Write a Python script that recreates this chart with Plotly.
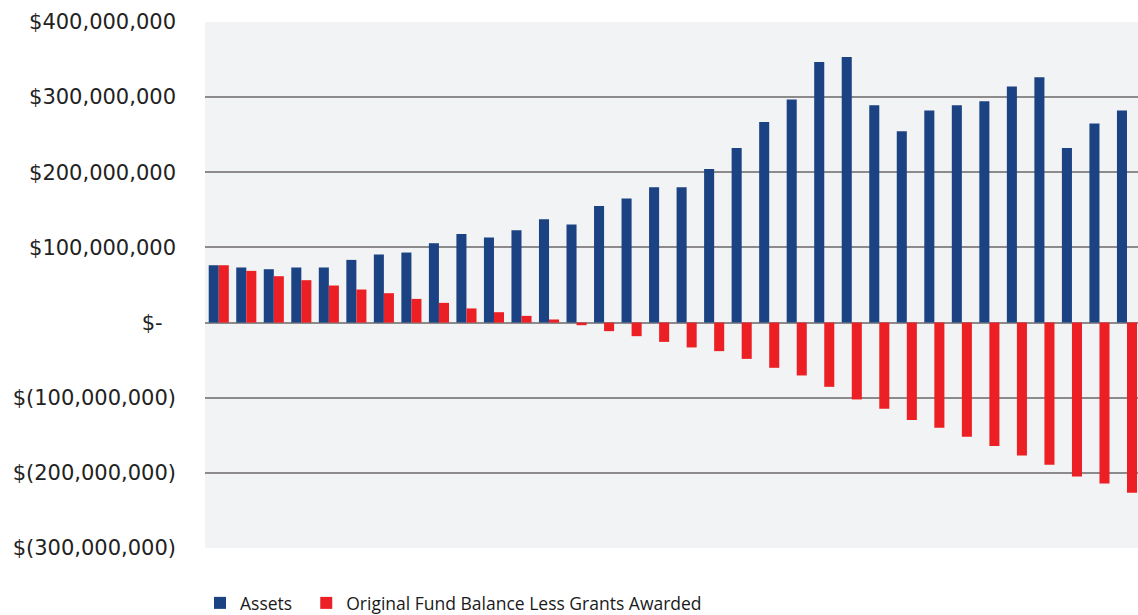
import plotly.graph_objects as go

categories = [str(i) for i in range(1, 35)]
assets = [76.3, 73.3, 71.0, 73.3, 73.3, 83.4, 90.6, 93.2, 105.6, 118.0,
          113.2, 122.9, 137.5, 130.5, 155.2, 165.0, 180.0, 180.0, 204.4, 232.3,
          267.0, 296.7, 346.7, 353.4, 289.1, 254.6, 282.1, 289.1, 294.5, 314.0,
          326.4, 232.3, 264.8, 282.1]
fund_balance = [76.3, 68.8, 61.7, 56.4, 49.3, 44.0, 39.1, 31.5, 26.2, 18.8,
                13.8, 8.9, 4.1, -3.5, -11.4, -18.1, -25.7, -33.1, -38.0, -48.3,
                -60.2, -70.4, -85.5, -102.3, -114.8, -129.8, -140.0, -152.0, -164.4, -176.8,
                -189.3, -204.7, -214.0, -226.5]
tick_vals = [400, 300, 200, 100, 0, -100, -200, -300]
tick_text = ["$400,000,000", "$300,000,000", "$200,000,000", "$100,000,000",
             "$-\u00a0\u00a0", "$(100,000,000)", "$(200,000,000)", "$(300,000,000)"]

M = 1_000_000
fig = go.Figure()
fig.add_trace(go.Bar(x=categories, y=[v * M for v in assets], name="Assets\u00a0\u00a0",
                     marker=dict(color="#1b4283", line=dict(width=0))))
fig.add_trace(go.Bar(x=categories, y=[v * M for v in fund_balance],
                     name="Original Fund Balance Less Grants Awarded",
                     marker=dict(color="#ec1f24", line=dict(width=0))))

fig.update_layout(
    width=1138, height=615,
    margin=dict(l=205, r=0, t=22, b=67),
    paper_bgcolor="white", plot_bgcolor="#f1f3f4",
    barmode="group", bargap=0.27, bargroupgap=0,
    showlegend=True,
    legend=dict(orientation="h", xref="container", yref="container",
                x=200 / 1138, xanchor="left", y=12 / 615, yanchor="middle",
                font=dict(family="Open Sans", size=17.5, color="#1a1a1a"),
                bgcolor="rgba(0,0,0,0)"),
    font=dict(family="DejaVu Sans", color="#222222"),
)
fig.update_xaxes(range=[-0.5, 33.4], showticklabels=False, showgrid=False,
                 ticks="", showline=False, zeroline=False)
fig.update_yaxes(range=[-300 * M, 400 * M], tickvals=[v * M for v in tick_vals],
                 ticktext=tick_text, showgrid=True, gridcolor="#8c8a8a", gridwidth=2,
                 zeroline=True, zerolinecolor="#8c8a8a", zerolinewidth=2,
                 ticks="", ticklabelstandoff=28, showline=False,
                 tickfont=dict(family="DejaVu Sans", size=21, color="#222222"))

fig.write_html("out.html", config={"displayModeBar": False},
               post_script="document.body.style.margin='0';document.body.style.overflow='hidden';")
